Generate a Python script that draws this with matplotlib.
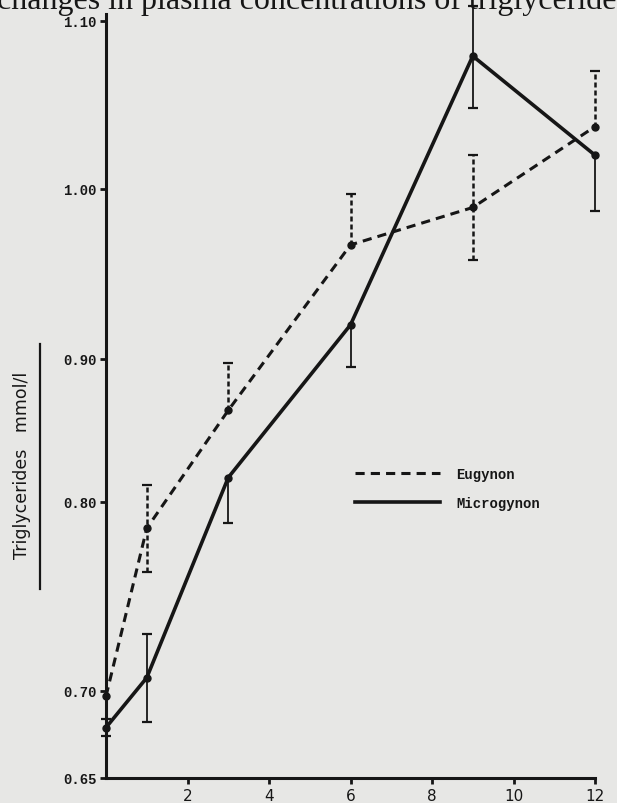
import numpy as np
import matplotlib
matplotlib.use("Agg")
import matplotlib.pyplot as plt
from matplotlib.lines import Line2D
from matplotlib.font_manager import FontProperties

# ---------------- data ----------------
months = [0, 1, 3, 6, 9, 12]
eugynon = [0.697, 0.786, 0.864, 0.967, 0.989, 1.037]
eugynon_err_lo = [0.013, 0.023, 0.0, 0.0, 0.031, 0.0]
eugynon_err_hi = [0.0, 0.026, 0.033, 0.030, 0.031, 0.033]
microgynon = [0.679, 0.707, 0.817, 0.920, 1.079, 1.020]
micro_err_lo = [0.005, 0.025, 0.028, 0.026, 0.031, 0.033]
micro_err_hi = [0.0, 0.023, 0.0, 0.0, 0.030, 0.0]
xticks = [2, 4, 6, 8, 10, 12]
yticks = [0.65, 0.70, 0.80, 0.90, 1.00, 1.10]
series_names = ["Eugynon", "Microgynon"]
ylabel_text = "Triglycerides   mmol/l"
page_text = "changes in plasma concentrations of triglycerides"

# ---------------- hand-drawn (uneven) y-axis scale ----------------
scale_vals = np.array([0.55, 0.65, 0.70, 0.80, 0.90, 1.00, 1.10, 1.30])
scale_units = np.array([-174, 0, 87, 276, 419, 589, 757, 1093], dtype=float)

def fwd(v):
    return np.interp(v, scale_vals, scale_units)

def inv(u):
    return np.interp(u, scale_units, scale_vals)

ink = "#161616"
paper = "#e7e7e5"

W, H = 617, 804
fig = plt.figure(figsize=(W / 100, H / 100), dpi=100, facecolor=paper)
ax = fig.add_axes([106 / W, 25 / H, (595 - 106) / W, (779 - 15) / H])
ax.set_facecolor("none")
ax.set_yscale("function", functions=(fwd, inv))
ax.set_xlim(0, 12)
ax.set_ylim(0.65, 1.104)

for s in ("top", "right"):
    ax.spines[s].set_visible(False)
for s in ("left", "bottom"):
    ax.spines[s].set_linewidth(2.2)
    ax.spines[s].set_color(ink)

ax.set_xticks(xticks)
ax.set_xticklabels([str(t) for t in xticks], family="DejaVu Sans", fontsize=11, color=ink)
ax.set_yticks(yticks)
ax.set_yticklabels(["%.2f" % t for t in yticks], family="Liberation Mono",
                   fontweight="bold", fontsize=10, color=ink)
ax.yaxis.set_minor_locator(matplotlib.ticker.NullLocator())
ax.tick_params(direction="out", length=4, width=2.0, colors=ink, pad=3)

x = np.array(months, dtype=float)

# lines
ax.plot(x, eugynon, ls=(0, (3, 2)), lw=2.2, color=ink, marker="o", ms=5, clip_on=False)
ax.plot(x, microgynon, ls="-", lw=2.6, color=ink, marker="o", ms=5, clip_on=False)

# error bars (one-sided where the reference only draws one half)
def draw_err(y, lo, hi, style, lw):
    y = np.array(y); lo = np.array(lo); hi = np.array(hi)
    top = y + hi
    bot = y - lo
    ax.vlines(x, bot, top, colors=ink, linestyles=style, lw=lw, clip_on=False)
    m = hi > 0
    ax.plot(x[m], top[m], ls="none", marker="_", ms=7, mew=1.6, color=ink, clip_on=False)
    m = lo > 0
    ax.plot(x[m], bot[m], ls="none", marker="_", ms=7, mew=1.6, color=ink, clip_on=False)

draw_err(eugynon, eugynon_err_lo, eugynon_err_hi, (0, (2, 1.2)), 1.8)
draw_err(microgynon, micro_err_lo, micro_err_hi, "-", 1.3)

# legend
handles = [Line2D([], [], ls=(0, (3, 2)), lw=2.2, color=ink),
           Line2D([], [], ls="-", lw=2.6, color=ink)]
leg = ax.legend(handles, series_names, loc="upper left",
                bbox_to_anchor=(355 / W, 1 - 468 / H), bbox_transform=fig.transFigure,
                frameon=False, prop=FontProperties(family="Liberation Mono", weight="bold", size=10),
                handlelength=6.1, handletextpad=1.2, labelspacing=1.1,
                borderpad=0, borderaxespad=0)
for t in leg.get_texts():
    t.set_color(ink)

# y-axis label with its underline
fig.text(22 / W, 1 - 465 / H, ylabel_text, rotation=90, family="DejaVu Sans",
         fontsize=12.5, ha="center", va="center", color=ink)
fig.add_artist(Line2D([40 / W, 40 / W], [1 - 345 / H, 1 - 590 / H], lw=1.6, color=ink))

# page text cut off at the top of the scan
fig.text(-0.005, 1 - 9 / H, page_text, family="Liberation Serif", fontsize=23,
         va="baseline", ha="left", color=ink)

fig.savefig("out.png", dpi=100, facecolor=paper)
